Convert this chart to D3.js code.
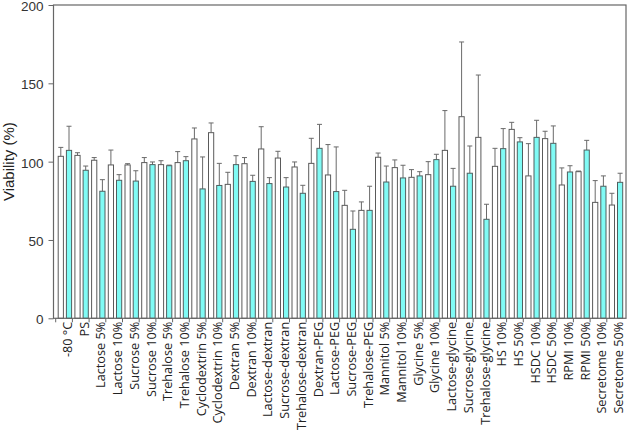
<!DOCTYPE html>
<html>
<head>
<meta charset="utf-8">
<script src="https://cdn.jsdelivr.net/npm/d3@7"></script>
<style>
  html, body { margin: 0; padding: 0; background: #fff; }
  svg { display: block; }
</style>
</head>
<body>
<svg id="chart" width="627" height="432"></svg>
<script>
const categories = ["-80 °C", "PS", "Lactose 5%", "Lactose 10%", "Sucrose 5%", "Sucrose 10%",
  "Trehalose 5%", "Trehalose 10%", "Cyclodextrin 5%", "Cyclodextrin 10%", "Dextran 5%", "Dextran 10%",
  "Lactose-dextran", "Sucrose-dextran", "Trehalose-dextran", "Dextran-PEG", "Lactose-PEG", "Sucrose-PEG",
  "Trehalose-PEG", "Mannitol 5%", "Mannitol 10%", "Glycine 5%", "Glycine 10%", "Lactose-glycine",
  "Sucrose-glycine", "Trehalose-glycine", "HS 10%", "HS 50%", "HSDC 10%", "HSDC 50%",
  "RPMI 10%", "RPMI 50%", "Secretome 10%", "Secretome 50%"];

const whiteValues = [103.4, 104.0, 100.9, 97.9, 97.9, 99.4, 98.1, 99.4, 114.5, 118.5, 85.5, 98.7,
  108.1, 102.3, 96.6, 98.9, 91.5, 72.1, 68.9, 102.8, 96.2, 90.0, 91.7, 107.2,
  128.7, 115.5, 97.0, 120.6, 90.9, 114.7, 85.1, 93.6, 74.0, 72.3];
const whiteErrors = [5.7, 1.7, 1.7, 9.5, 0.8, 3.2, 2.5, 7.0, 7.0, 6.2, 7.7, 3.9,
  14.2, 4.3, 3.2, 16.0, 19.4, 9.6, 5.4, 2.7, 4.9, 4.9, 8.3, 25.4,
  47.7, 39.8, 11.5, 4.5, 20.6, 4.7, 10.9, 0.4, 13.9, 7.5];

const cyanValues = [107.2, 94.5, 81.1, 88.1, 87.6, 98.1, 97.4, 100.6, 82.6, 84.8, 98.1, 87.4,
  86.0, 83.8, 79.8, 108.5, 80.9, 56.8, 68.9, 87.0, 89.6, 90.9, 101.3, 84.3,
  92.6, 63.2, 108.3, 112.6, 115.5, 111.7, 93.4, 107.4, 84.3, 86.8];
const cyanErrors = [15.4, 2.7, 7.4, 3.6, 6.6, 1.7, 0.4, 2.6, 20.4, 14.1, 5.7, 3.9,
  3.8, 6.0, 5.1, 15.3, 28.5, 11.7, 15.4, 10.2, 8.1, 2.7, 3.4, 11.4,
  17.4, 9.6, 12.8, 2.7, 10.9, 11.1, 4.0, 6.2, 6.6, 5.8];

const yTicks = [0, 50, 100, 150, 200];
const yLabel = "Viability (%)";

const svg = d3.select("#chart");
const frame = { left: 53.5, right: 626, top: 5, bottom: 318.3 };

const x = d3.scaleBand().domain(categories).range([55.7, 623.5]).paddingInner(0).paddingOuter(0);
const xs = d3.scaleBand().domain(["white", "cyan"]).range([2.5, 15.9]).paddingInner(0.366).paddingOuter(0);
const y = d3.scaleLinear().domain([0, 200]).range([frame.bottom, frame.top]);

const series = [
  { key: "white", values: whiteValues, errors: whiteErrors, fill: "#ffffff", stroke: "#5a5a5a" },
  { key: "cyan", values: cyanValues, errors: cyanErrors, fill: "#80fbf5", stroke: "#4f5f5f" }
];

const rows = [];
categories.forEach((c, i) => {
  series.forEach(s => rows.push({ cat: c, key: s.key, v: s.values[i], e: s.errors[i], fill: s.fill, stroke: s.stroke }));
});

const eg = svg.append("g");
rows.forEach(d => {
  const cx = x(d.cat) + xs(d.key) + xs.bandwidth() / 2;
  eg.append("line").attr("x1", cx).attr("x2", cx).attr("y1", y(d.v)).attr("y2", y(d.v + d.e))
    .attr("stroke", "#6a6a6a").attr("stroke-width", 1);
  eg.append("line").attr("x1", cx - 2.5).attr("x2", cx + 2.5).attr("y1", y(d.v + d.e)).attr("y2", y(d.v + d.e))
    .attr("stroke", "#6a6a6a").attr("stroke-width", 1);
});

svg.append("g").selectAll("rect").data(rows).join("rect")
  .attr("x", d => x(d.cat) + xs(d.key))
  .attr("y", d => y(d.v))
  .attr("width", xs.bandwidth())
  .attr("height", d => y(0) - y(d.v))
  .attr("fill", d => d.fill)
  .attr("stroke", d => d.stroke)
  .attr("stroke-width", 1);

svg.append("rect")
  .attr("x", frame.left).attr("y", frame.top)
  .attr("width", frame.right - frame.left).attr("height", frame.bottom - frame.top)
  .attr("fill", "none").attr("stroke", "#666").attr("stroke-width", 1.2);

const yAxis = d3.axisLeft(y).tickValues(yTicks).tickSize(5).tickPadding(5).tickFormat(d3.format("d"));
const yg = svg.append("g").attr("transform", `translate(${frame.left},0)`).call(yAxis);
yg.select(".domain").remove();
yg.selectAll(".tick line").attr("stroke", "#666");
yg.selectAll(".tick text").attr("font-family", "'Liberation Sans', Arial, sans-serif")
  .attr("font-size", 13.5).attr("fill", "#333").attr("dy", "0.4em");

const xAxis = d3.axisBottom(x).tickSize(0).tickPadding(0);
const xg = svg.append("g").attr("transform", `translate(0,${frame.bottom})`).call(xAxis);
xg.select(".domain").remove();
xg.selectAll(".tick text")
  .attr("font-family", "'Open Sans', sans-serif")
  .attr("font-size", 12.7)
  .attr("fill", "#222")
  .attr("text-anchor", "end")
  .attr("transform", "rotate(-90)")
  .attr("x", -3.5)
  .attr("y", 3.5)
  .attr("dy", "0.35em");
xg.selectAll(".tick").append("line")
  .attr("x1", -x.bandwidth() / 2).attr("x2", -x.bandwidth() / 2)
  .attr("y1", 0).attr("y2", 4).attr("stroke", "#666");

svg.append("text")
  .attr("transform", `translate(14,${(frame.top + frame.bottom) / 2}) rotate(-90)`)
  .attr("text-anchor", "middle")
  .attr("font-family", "'Liberation Sans', Arial, sans-serif")
  .attr("font-size", 15)
  .attr("fill", "#222")
  .text(yLabel);
</script>
</body>
</html>
